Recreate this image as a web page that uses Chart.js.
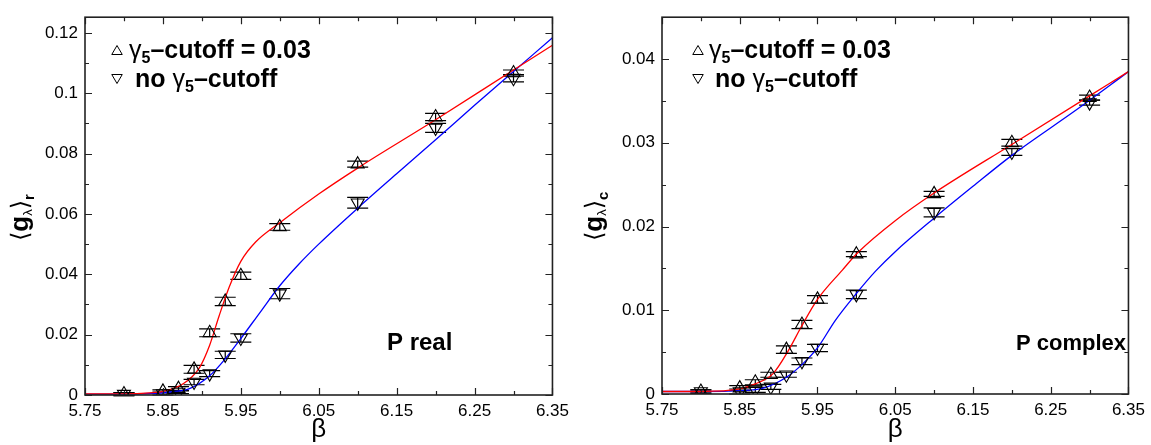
<!DOCTYPE html>
<html>
<head>
<meta charset="utf-8">
<script src="https://cdn.jsdelivr.net/npm/chart.js@4.4.1/dist/chart.umd.min.js"></script>
<style>
  html, body { margin: 0; padding: 0; background: #fff; }
  #wrap { position: relative; width: 1151px; height: 445px; }
  #cReal { position: absolute; left: 0; top: 0; }
  #cCplx { position: absolute; left: 575px; top: 0; }
</style>
</head>
<body>
<div id="wrap">
  <canvas id="cReal" width="575" height="445"></canvas>
  <canvas id="cCplx" width="576" height="445"></canvas>
</div>
<script>
// ---- simulation points (beta values shared by both panels) ----
const betaPoints = [5.80, 5.85, 5.87, 5.89, 5.91, 5.93, 5.95, 6.00, 6.10, 6.20, 6.30];

// <g_lambda>_r, P real
const realCut      = [0.0003, 0.0012, 0.0021, 0.0085, 0.0206, 0.0310, 0.0395, 0.0557, 0.0765, 0.0921, 0.1067];
const realCutErr   = [0.0005, 0.0005, 0.0007, 0.0013, 0.0013, 0.0014, 0.0012, 0.0011, 0.0010, 0.0012, 0.0010];
const realNoCut    = [0.0003, 0.0005, 0.0010, 0.0043, 0.0071, 0.0133, 0.0189, 0.0336, 0.0637, 0.0885, 0.1050];
const realNoCutErr = [0.0005, 0.0005, 0.0005, 0.0009, 0.0010, 0.0012, 0.0014, 0.0017, 0.0018, 0.0015, 0.0012];

// <g_lambda>_c, P complex
const cplxCut      = [0.0003, 0.0007, 0.0014, 0.0023, 0.0053, 0.0083, 0.0113, 0.0167, 0.0239, 0.0300, 0.0354];
const cplxCutErr   = [0.0002, 0.0003, 0.0003, 0.0003, 0.00045, 0.0005, 0.00046, 0.0003, 0.0003, 0.0004, 0.0003];
const cplxNoCut    = [0.0003, 0.0003, 0.0005, 0.00085, 0.0023, 0.0039, 0.0055, 0.0119, 0.0217, 0.0289, 0.0348];
const cplxNoCutErr = [0.0002, 0.0003, 0.0003, 0.0003, 0.0003, 0.0004, 0.00043, 0.0005, 0.00054, 0.0004, 0.0003];

// ---- fitted curves ----
const realCutFitBeta   = [5.75, 5.80, 5.833, 5.85, 5.876, 5.897, 5.91, 5.922, 5.935, 5.95, 5.969, 6.00, 6.05, 6.10, 6.20, 6.30, 6.35];
const realCutFit       = [0.0004, 0.0004, 0.0007, 0.0012, 0.0037, 0.0091, 0.0165, 0.0261, 0.0357, 0.0443, 0.0507, 0.0571, 0.0666, 0.0752, 0.0912, 0.1077, 0.1159];
const realNoCutFitBeta = [5.75, 5.80, 5.833, 5.86, 5.884, 5.91, 5.931, 5.95, 5.975, 6.00, 6.025, 6.05, 6.10, 6.15, 6.20, 6.25, 6.30, 6.35];
const realNoCutFit     = [0.0003, 0.0003, 0.0005, 0.0010, 0.0021, 0.0064, 0.0123, 0.0187, 0.0275, 0.0362, 0.0435, 0.0500, 0.0619, 0.0733, 0.0846, 0.0960, 0.1072, 0.1184];

const cplxCutFitBeta   = [5.75, 5.80, 5.85, 5.87, 5.8925, 5.912, 5.929, 5.95, 5.982, 6.002, 6.05, 6.10, 6.20, 6.30, 6.35];
const cplxCutFit       = [0.0003, 0.0003, 0.0006, 0.0012, 0.0024, 0.0051, 0.0080, 0.0113, 0.0148, 0.0169, 0.0207, 0.0240, 0.0298, 0.0356, 0.0385];
const cplxNoCutFitBeta = [5.75, 5.80, 5.85, 5.88, 5.91, 5.931, 5.95, 5.973, 6.00, 6.025, 6.05, 6.10, 6.15, 6.20, 6.284, 6.35];
const cplxNoCutFit     = [0.0003, 0.0003, 0.0004, 0.0007, 0.0020, 0.0036, 0.0055, 0.0088, 0.0120, 0.0147, 0.0170, 0.0210, 0.0248, 0.0285, 0.0340, 0.0385];

// ---- axes ----
const xTicks      = [5.75, 5.85, 5.95, 6.05, 6.15, 6.25, 6.35];
const xTickLabels = ['5.75', '5.85', '5.95', '6.05', '6.15', '6.25', '6.35'];
const xMinor      = [5.80, 5.90, 6.00, 6.10, 6.20, 6.30];

const yTicksReal      = [0, 0.02, 0.04, 0.06, 0.08, 0.10, 0.12];
const yTickLabelsReal = ['0', '0.02', '0.04', '0.06', '0.08', '0.1', '0.12'];
const yMinorReal      = [0.01, 0.03, 0.05, 0.07, 0.09, 0.11];

const yTicksCplx      = [0, 0.01, 0.02, 0.03, 0.04];
const yTickLabelsCplx = ['0', '0.01', '0.02', '0.03', '0.04'];
const yMinorCplx      = [0.005, 0.015, 0.025, 0.035];

const FONT = '"Liberation Sans", Arial, Helvetica, sans-serif';

const pts = (xs, ys) => xs.map((x, i) => ({ x: x, y: ys[i] }));

// frame, inward ticks, error bars, legend text and axis label
const decorations = {
  id: 'decorations',
  beforeDatasetsDraw(chart) {
    const ctx = chart.ctx;
    const xs = chart.scales.x, ys = chart.scales.y;
    // error bars for the marker datasets
    ctx.save();
    ctx.strokeStyle = '#000';
    ctx.lineWidth = 1.2;
    chart.data.datasets.forEach(ds => {
      if (!ds.errors) return;
      ds.data.forEach((p, i) => {
        const e = ds.errors[i];
        const px = xs.getPixelForValue(p.x);
        const yLo = ys.getPixelForValue(p.y - e);
        const yHi = ys.getPixelForValue(p.y + e);
        ctx.beginPath();
        ctx.moveTo(px, yLo); ctx.lineTo(px, yHi);
        ctx.moveTo(px - 10.5, yLo); ctx.lineTo(px + 10.5, yLo);
        ctx.moveTo(px - 10.5, yHi); ctx.lineTo(px + 10.5, yHi);
        ctx.stroke();
      });
    });
    ctx.restore();
  },
  afterDraw(chart) {
    const o = chart.options.plugins.decorations;
    const ctx = chart.ctx;
    const a = chart.chartArea;
    const xs = chart.scales.x, ys = chart.scales.y;
    ctx.save();
    // frame
    ctx.strokeStyle = '#222';
    ctx.lineWidth = 1.6;
    ctx.strokeRect(a.left, a.top, a.right - a.left, a.bottom - a.top);
    // inward ticks on all four sides
    ctx.lineWidth = 1.2;
    ctx.beginPath();
    const xt = (v, len) => {
      const px = Math.round(xs.getPixelForValue(v)) + 0.5;
      ctx.moveTo(px, a.bottom); ctx.lineTo(px, a.bottom - len);
      ctx.moveTo(px, a.top); ctx.lineTo(px, a.top + len);
    };
    const yt = (v, len) => {
      const py = Math.round(ys.getPixelForValue(v)) + 0.5;
      ctx.moveTo(a.left, py); ctx.lineTo(a.left + len, py);
      ctx.moveTo(a.right, py); ctx.lineTo(a.right - len, py);
    };
    xTicks.forEach(v => xt(v, 7));
    xMinor.forEach(v => xt(v, 4));
    o.yMajor.forEach(v => yt(v, 7));
    o.yMinor.forEach(v => yt(v, 4));
    ctx.stroke();

    // legend
    ctx.fillStyle = '#000';
    ctx.strokeStyle = '#000';
    ctx.textBaseline = 'alphabetic';
    const L = o.legend;
    const tri = (cx, cy, up) => {
      const h = 9, w = 10.5;
      ctx.beginPath();
      if (up) {
        ctx.moveTo(cx, cy - h / 2); ctx.lineTo(cx + w / 2, cy + h / 2); ctx.lineTo(cx - w / 2, cy + h / 2);
      } else {
        ctx.moveTo(cx, cy + h / 2); ctx.lineTo(cx + w / 2, cy - h / 2); ctx.lineTo(cx - w / 2, cy - h / 2);
      }
      ctx.closePath();
      ctx.lineWidth = 1;
      ctx.stroke();
    };
    const runs = (x, y, parts) => {
      parts.forEach(p => {
        ctx.font = p.font;
        ctx.fillText(p.t, x, y + (p.dy || 0));
        x += ctx.measureText(p.t).width + (p.gap || 0);
      });
    };
    const big = 'bold 25px ' + FONT, gam = '25px ' + FONT, sub = 'bold 16px ' + FONT;
    tri(L.sym, L.y1 - 8, true);
    runs(L.t1, L.y1, [{ t: 'γ', font: gam }, { t: '5', font: sub, dy: 5 }, { t: '–cutoff = 0.03', font: big }]);
    tri(L.sym, L.y2 - 8, false);
    runs(L.t2, L.y2, [{ t: 'no ', font: big }, { t: 'γ', font: gam }, { t: '5', font: sub, dy: 5 }, { t: '–cutoff', font: big }]);

    // panel tag
    ctx.font = 'bold ' + o.tag.size + 'px ' + FONT;
    ctx.fillText(o.tag.text, o.tag.x, o.tag.y);

    // rotated y-axis label  <g_lambda>_sub
    ctx.translate(o.ylab.x, o.ylab.y);
    ctx.rotate(-Math.PI / 2);
    runs(0, 0, [
      { t: '⟨', font: '24px "DejaVu Sans", ' + FONT },
      { t: 'g', font: 'bold 26px ' + FONT },
      { t: 'λ', font: '13px ' + FONT, dy: 4 },
      { t: '⟩', font: '24px "DejaVu Sans", ' + FONT },
      { t: o.ylab.sub, font: 'bold 15px ' + FONT, dy: 6 }
    ]);
    ctx.restore();
  }
};

function makeChart(canvasId, cfg) {
  const tickFont = { family: FONT, size: 17 };
  return new Chart(document.getElementById(canvasId), {
    type: 'scatter',
    data: {
      datasets: [
        { data: pts(cfg.fitUpBeta, cfg.fitUp), showLine: true, pointRadius: 0, borderColor: '#ff0000',
          borderWidth: 1.3, cubicInterpolationMode: 'monotone', fill: false, order: 3 },
        { data: pts(cfg.fitDnBeta, cfg.fitDn), showLine: true, pointRadius: 0, borderColor: '#0000ff',
          borderWidth: 1.3, cubicInterpolationMode: 'monotone', fill: false, order: 4 },
        { data: pts(betaPoints, cfg.up), errors: cfg.upErr, pointStyle: 'triangle', rotation: 0, pointRadius: 7.5,
          borderColor: '#000', backgroundColor: 'rgba(0,0,0,0)', borderWidth: 1.1, order: 1 },
        { data: pts(betaPoints, cfg.dn), errors: cfg.dnErr, pointStyle: 'triangle', rotation: 180, pointRadius: 7.5,
          borderColor: '#000', backgroundColor: 'rgba(0,0,0,0)', borderWidth: 1.1, order: 2 }
      ]
    },
    options: {
      responsive: false,
      animation: false,
      events: [],
      layout: { padding: { top: 3, right: 20, left: 0, bottom: 0 } },
      scales: {
        x: {
          type: 'linear', min: 5.75, max: 6.35,
          afterBuildTicks: s => { s.ticks = xTicks.map(v => ({ value: v })); },
          afterFit: s => { s.height = cfg.xAxisH; },
          grid: { display: false, drawTicks: false },
          border: { display: false },
          ticks: { color: '#000', font: tickFont, padding: 6, autoSkip: false, maxRotation: 0,
                   callback: (v, i) => xTickLabels[i] },
          title: { display: true, text: 'β', color: '#000', font: { family: FONT, size: 26 },
                   padding: { top: 0, bottom: 0 } }
        },
        y: {
          type: 'linear', min: 0, max: cfg.yMax,
          afterBuildTicks: s => { s.ticks = cfg.yTicks.map(v => ({ value: v })); },
          afterFit: s => { s.width = cfg.yAxisW; },
          grid: { display: false, drawTicks: false },
          border: { display: false },
          ticks: { color: '#000', font: tickFont, padding: 7, autoSkip: false,
                   callback: (v, i) => cfg.yTickLabels[i] }
        }
      },
      plugins: {
        legend: { display: false },
        tooltip: { enabled: false },
        decorations: {
          yMajor: cfg.yTicks, yMinor: cfg.yMinor,
          legend: cfg.legend, tag: cfg.tag, ylab: cfg.ylab
        }
      }
    },
    plugins: [decorations]
  });
}

makeChart('cReal', {
  up: realCut, upErr: realCutErr, dn: realNoCut, dnErr: realNoCutErr,
  fitUpBeta: realCutFitBeta, fitUp: realCutFit, fitDnBeta: realNoCutFitBeta, fitDn: realNoCutFit,
  yMax: 0.1252, yTicks: yTicksReal, yTickLabels: yTickLabelsReal, yMinor: yMinorReal,
  yAxisW: 85, xAxisH: 50,
  legend: { sym: 117, t1: 129, t2: 135, y1: 58, y2: 87 },
  tag: { text: 'P real', x: 387, y: 350, size: 24 },
  ylab: { x: 28, y: 241, sub: 'r' }
});

makeChart('cCplx', {
  up: cplxCut, upErr: cplxCutErr, dn: cplxNoCut, dnErr: cplxNoCutErr,
  fitUpBeta: cplxCutFitBeta, fitUp: cplxCutFit, fitDnBeta: cplxNoCutFitBeta, fitDn: cplxNoCutFit,
  yMax: 0.0450, yTicks: yTicksCplx, yTickLabels: yTickLabelsCplx, yMinor: yMinorCplx,
  yAxisW: 87, xAxisH: 51,
  legend: { sym: 123, t1: 134, t2: 140, y1: 58, y2: 87 },
  tag: { text: 'P complex', x: 441, y: 350, size: 22 },
  ylab: { x: 27, y: 241, sub: 'c' }
});
</script>
</body>
</html>
